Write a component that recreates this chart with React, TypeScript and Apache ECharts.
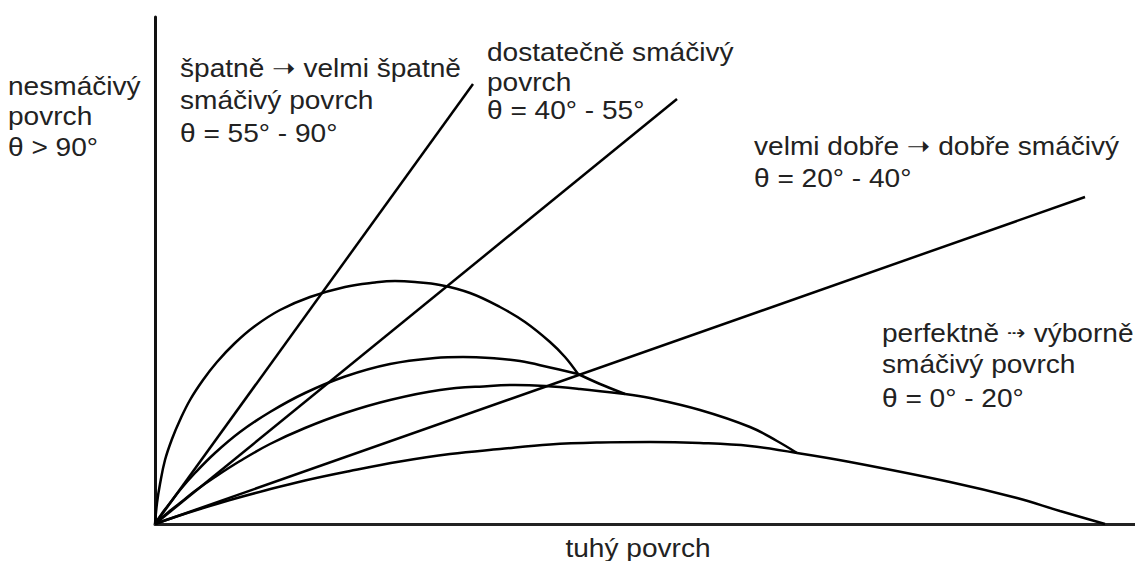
import React, { useEffect, useRef } from "react";
import * as echarts from "echarts";

// Droplet profiles (x along the solid surface, y height)
const arcA = [[0,0],[0.2,2.1],[0.5,4.0],[1.0,6.4],[1.7,8.5],[2.5,10.4],[3.5,12.4],[4.8,14.4],[6.2,16.2],[8.0,18.1],[10.0,19.8],[12.5,21.4],[15.5,22.7],[19.0,23.7],[22.0,24.15],[24.0,24.3],[26.0,24.2],[28.5,23.9],[31.5,23.1],[34.5,21.7],[37.0,20.2],[39.5,18.2],[41.0,16.7],[42.3,15.0]];
const arcB = [[0,0],[0.8,1.2],[1.5,2.1],[2.5,3.4],[4.0,5.1],[6.0,7.1],[8.5,9.2],[11.5,11.2],[15.0,13.1],[19.0,14.75],[23.5,16.0],[28.0,16.6],[30.8,16.7],[33.5,16.6],[36.5,16.3],[39.5,15.65],[42.3,15.0]];
const tailB = [[42.3,15.0],[44.5,14.0],[47.0,13.0]];
const arcC = [[0,0],[0.5,0.45],[1.3,1.15],[2.5,2.1],[4.0,3.3],[6.0,4.7],[8.5,6.3],[11.5,8.0],[15.0,9.6],[19.0,11.1],[23.5,12.4],[28.5,13.4],[33.5,13.8],[36.0,13.9],[39.0,13.8],[42.5,13.5],[47.0,13.0]];
const tailC = [[47.0,13.0],[49.5,12.6],[54.5,11.4],[59.5,9.7],[62.2,8.3],[64.2,7.1]];
const arcD = [[0,0],[2.0,0.7],[4.5,1.5],[7.5,2.4],[11.0,3.35],[15.0,4.35],[19.5,5.3],[24.5,6.25],[29.5,7.0],[34.5,7.5],[39.5,7.95],[44.5,8.15],[49.5,8.2],[54.5,8.1],[59.5,7.8],[64.2,7.1]];
const tailD = [[64.2,7.1],[69.5,6.2],[79.5,4.2],[86.2,2.6],[90.5,1.3],[95.0,0]];

// Contact-angle rays from the origin
const rayPoor = [[0,0],[31.8,44.0]];
const rayFair = [[0,0],[52.2,42.5]];
const rayGood = [[0,0],[93.0,32.7]];

// Axis extents
const xMax = 98;
const yMax = 50.7;

// Texts
const textNonWetting = ["nesmáčivý", "povrch", "θ > 90°"];
const textPoor = ["špatně ➝ velmi špatně", "smáčivý povrch", "θ = 55° - 90°"];
const textFair = ["dostatečně smáčivý", "povrch", "θ = 40° - 55°"];
const textGood = ["velmi dobře ➝ dobře smáčivý", "θ = 20° - 40°"];
const textPerfect = ["perfektně {a|⇢} výborně", "smáčivý povrch", "θ = 0° - 20°"];
const xAxisTitle = "tuhý povrch";

const FONT = "'Liberation Sans', Arial, 'DejaVu Sans', sans-serif";
const TEXT_COLOR = "#222";

const layout = [
  { lines: textNonWetting, x: 8, ys: [86, 116, 147] },
  { lines: textPoor, x: 180, ys: [68, 100, 133] },
  { lines: textFair, x: 487, ys: [52, 82, 110] },
  { lines: textGood, x: 754, ys: [146, 178] },
  { lines: textPerfect, x: 882, ys: [333, 364, 398] },
];

function lineSeries(data: number[][], smooth: boolean | number) {
  return {
    type: "line",
    data,
    smooth,
    showSymbol: false,
    symbol: "none",
    silent: true,
    lineStyle: { color: "#000", width: 2.5 },
  };
}

export default function App() {
  const ref = useRef<HTMLDivElement>(null);
  useEffect(() => {
    if (!ref.current) return;
    const chart = echarts.init(ref.current, null, { renderer: "svg" });
    const graphics: any[] = [];
    layout.forEach((b) => {
      b.lines.forEach((t, i) => {
        graphics.push({
          type: "text",
          x: b.x,
          y: b.ys[i],
          scaleX: 1.08,
          silent: true,
          style: {
            text: t,
            fill: TEXT_COLOR,
            fontSize: 26,
            fontFamily: FONT,
            align: "left",
            textAlign: "left",
            verticalAlign: "middle",
            textVerticalAlign: "middle",
            rich: {
              a: { fontSize: 21, fontFamily: "'DejaVu Sans', sans-serif", fill: TEXT_COLOR },
            },
          },
        });
      });
    });
    graphics.push({
      type: "text",
      x: 638,
      y: 548,
      scaleX: 1.08,
      silent: true,
      style: {
        text: xAxisTitle,
        fill: TEXT_COLOR,
        fontSize: 26,
        fontFamily: FONT,
        align: "center",
        textAlign: "center",
        verticalAlign: "middle",
        textVerticalAlign: "middle",
      },
    });
    chart.setOption({
      animation: false,
      backgroundColor: "#fff",
      grid: { left: 155, right: 0, top: 17, bottom: 37, containLabel: false },
      xAxis: {
        type: "value",
        min: 0,
        max: xMax,
        axisLine: { show: true, lineStyle: { color: "#222", width: 3 } },
        axisTick: { show: false },
        axisLabel: { show: false },
        splitLine: { show: false },
      },
      yAxis: {
        type: "value",
        min: 0,
        max: yMax,
        axisLine: { show: true, lineStyle: { color: "#111", width: 3 } },
        axisTick: { show: false },
        axisLabel: { show: false },
        splitLine: { show: false },
      },
      series: [
        lineSeries(arcA, 0.4),
        lineSeries(arcB, 0.4),
        lineSeries(tailB, 0.3),
        lineSeries(arcC, 0.4),
        lineSeries(tailC, 0.4),
        lineSeries(arcD, 0.4),
        lineSeries(tailD, 0.4),
        lineSeries(rayPoor, false),
        lineSeries(rayFair, false),
        lineSeries(rayGood, false),
      ],
      graphic: graphics,
    });
    return () => chart.dispose();
  }, []);
  return (
    <div
      ref={ref}
      style={{ position: "fixed", left: 0, top: 0, width: 1135, height: 561, background: "#fff" }}
    />
  );
}
